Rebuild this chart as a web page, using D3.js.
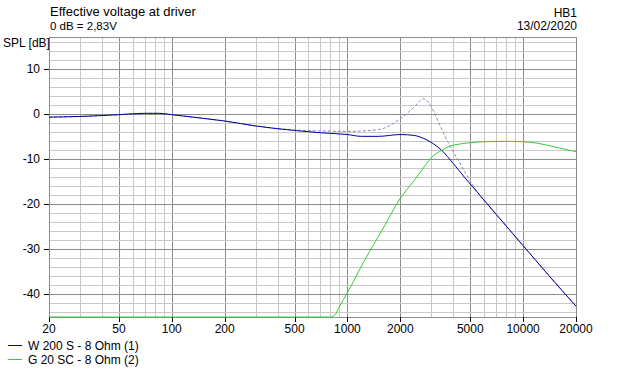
<!DOCTYPE html>
<html>
<head>
<meta charset="utf-8">
<script src="https://cdn.jsdelivr.net/npm/d3@7"></script>
<style>
    body { margin: 0; background: #fff; }
    text { font-family: "Liberation Sans", Arial, sans-serif; fill: #000; }
</style>
</head>
<body>
<svg id="chart" width="619" height="371"></svg>
<script>
// frequency response readings (Hz, dB)
const wooferFreq = [20, 30, 50, 70, 85, 100, 150, 200, 300, 500, 700, 1000, 1200, 1500, 2000, 2400, 2800, 3100, 3440, 4000, 4670, 5500, 7000, 10000, 14000, 20000];
const wooferDb = [-0.75, -0.6, -0.2, 0.1, 0.1, -0.2, -1.0, -1.6, -2.7, -3.7, -4.2, -4.6, -5.0, -5.0, -4.6, -4.8, -5.7, -6.7, -8.1, -11.0, -14.2, -17.4, -22.2, -29.2, -35.8, -42.6];

const tweeterFreq = [20, 800, 850, 900, 1000, 1250, 1600, 2000, 2420, 2800, 3080, 3440, 3830, 4760, 6000, 8000, 10000, 12000, 15000, 20000];
const tweeterDb = [-45, -45, -44.5, -42.7, -39.6, -32.5, -25.3, -18.7, -14.6, -11.2, -9.3, -8.1, -7.2, -6.5, -6.2, -6.1, -6.2, -6.5, -7.3, -8.4];

const sumFreq = [20, 30, 50, 70, 85, 100, 150, 200, 300, 500, 700, 1000, 1500, 2000, 2400, 2700, 2900, 3100, 3400, 3750, 4300, 4880, 5500, 7000, 10000, 14000, 20000];
const sumDb = [-0.75, -0.6, -0.2, 0.1, 0.1, -0.2, -1.0, -1.6, -2.7, -3.6, -3.8, -3.9, -3.5, -1.1, 1.5, 3.3, 2.5, 0.5, -3.0, -6.4, -10.5, -14.2, -17.4, -22.2, -29.2, -35.8, -42.6];

const xTicks = [20, 50, 100, 200, 500, 1000, 2000, 5000, 10000, 20000];
const yTicks = [10, 0, -10, -20, -30, -40];
const legendNames = ['W 200 S - 8 Ohm (1)', 'G 20 SC - 8 Ohm (2)'];
const legendColors = ['#00009c', '#33cc33'];

const margin = { left: 49, right: 43, top: 37, bottom: 54 };
const width = 619, height = 371;

const svg = d3.select('#chart');

const x = d3.scaleLog()
    .domain([20, 20000])
    .range([margin.left, width - margin.right]);

const y = d3.scaleLinear()
    .domain([-45, 17])
    .range([height - margin.bottom, margin.top]);

// grid: verticals
const vLines = [];
[10, 100, 1000, 10000].forEach(dec => {
    for (let k = 1; k <= 9; k++) {
        const f = dec * k;
        if (f > 20 && f < 20000) vLines.push(f);
    }
});

svg.append('g')
    .selectAll('line')
    .data(vLines)
    .enter()
    .append('line')
    .attr('x1', d => Math.round(x(d)) + 0.5)
    .attr('x2', d => Math.round(x(d)) + 0.5)
    .attr('y1', y(17))
    .attr('y2', y(-45))
    .attr('stroke', d => xTicks.includes(d) ? '#8c8c8c' : '#c8c8c8')
    .attr('stroke-width', 1);

// grid: horizontals every 2 dB
const hLines = d3.range(-44, 17, 2).concat(d3.range(-40, 11, 10));
svg.append('g')
    .selectAll('line')
    .data(hLines)
    .enter()
    .append('line')
    .attr('x1', x(20))
    .attr('x2', x(20000))
    .attr('y1', d => Math.round(y(d)) + 0.5)
    .attr('y2', d => Math.round(y(d)) + 0.5)
    .attr('stroke', d => d % 10 === 0 ? '#8c8c8c' : '#c8c8c8')
    .attr('stroke-width', 1);

// frame
svg.append('rect')
    .attr('x', Math.round(x(20)) + 0.5)
    .attr('y', Math.round(y(17)) + 0.5)
    .attr('width', Math.round(x(20000)) - Math.round(x(20)))
    .attr('height', Math.round(y(-45)) - Math.round(y(17)))
    .attr('fill', 'none')
    .attr('stroke', '#8c8c8c');

// tick marks
svg.append('g')
    .selectAll('line')
    .data(yTicks)
    .enter()
    .append('line')
    .attr('x1', x(20) - 5)
    .attr('x2', x(20))
    .attr('y1', d => Math.round(y(d)) + 0.5)
    .attr('y2', d => Math.round(y(d)) + 0.5)
    .attr('stroke', '#000');

svg.append('g')
    .selectAll('line')
    .data(xTicks)
    .enter()
    .append('line')
    .attr('x1', d => Math.round(x(d)) + 0.5)
    .attr('x2', d => Math.round(x(d)) + 0.5)
    .attr('y1', y(-45))
    .attr('y2', y(-45) + 5)
    .attr('stroke', '#000');

// tick labels
svg.append('g')
    .selectAll('text')
    .data(yTicks)
    .enter()
    .append('text')
    .attr('x', x(20) - 9)
    .attr('y', d => y(d) + 4)
    .attr('text-anchor', 'end')
    .style('font-size', '12px')
    .text(d => d);

svg.append('g')
    .selectAll('text')
    .data(xTicks)
    .enter()
    .append('text')
    .attr('x', d => x(d))
    .attr('y', y(-45) + 16)
    .attr('text-anchor', 'middle')
    .style('font-size', '12px')
    .text(d => d);

// curves
const line = d3.line()
    .x(d => x(d[0]))
    .y(d => y(d[1]))
    .curve(d3.curveMonotoneX);

svg.append('path')
    .datum(d3.zip(sumFreq, sumDb))
    .attr('d', line)
    .attr('fill', 'none')
    .attr('stroke', '#8888b8')
    .attr('stroke-width', 1)
    .attr('stroke-dasharray', '3,2');

svg.append('path')
    .datum(d3.zip(wooferFreq, wooferDb))
    .attr('d', line)
    .attr('fill', 'none')
    .attr('stroke', legendColors[0])
    .attr('stroke-width', 1);

svg.append('path')
    .datum(d3.zip(tweeterFreq, tweeterDb))
    .attr('d', line)
    .attr('fill', 'none')
    .attr('stroke', legendColors[1])
    .attr('stroke-width', 1);

// titles
svg.append('text').attr('x', 50).attr('y', 16).style('font-size', '13px').text('Effective voltage at driver');
svg.append('text').attr('x', 50).attr('y', 30).style('font-size', '11.5px').text('0 dB = 2,83V');
svg.append('text').attr('x', 3).attr('y', 47).style('font-size', '12px').text('SPL [dB]');
svg.append('text').attr('x', 577).attr('y', 17).attr('text-anchor', 'end').style('font-size', '12px').text('HB1');
svg.append('text').attr('x', 577).attr('y', 30).attr('text-anchor', 'end').style('font-size', '12px').text('13/02/2020');

// legend
const legend = svg.append('g')
    .selectAll('g')
    .data(legendNames)
    .enter()
    .append('g')
    .attr('transform', (d, i) => `translate(0, ${345 + i * 14})`);

legend.append('line')
    .attr('x1', 8)
    .attr('x2', 22)
    .attr('y1', 0.5)
    .attr('y2', 0.5)
    .attr('stroke', (d, i) => legendColors[i])
    .attr('stroke-width', 1);

legend.append('text')
    .attr('x', 28)
    .attr('y', 5)
    .style('font-size', '12px')
    .text(d => d);
</script>
</body>
</html>
